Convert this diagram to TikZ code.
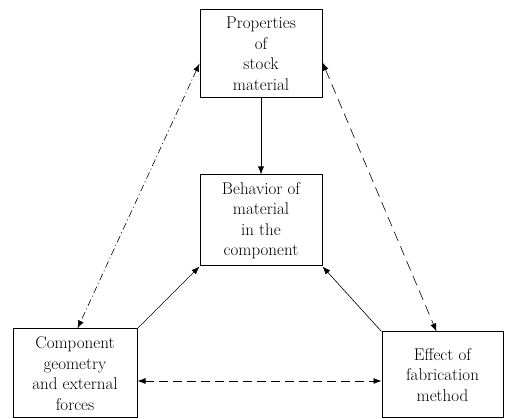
\documentclass[tikz,border=0pt]{standalone}
\usetikzlibrary{arrows.meta}
\begin{document}
\begin{tikzpicture}[x=1pt,y=-1pt,
  box/.style={draw=black,line width=1pt,align=center,inner sep=0pt,
    font=\fontsize{17}{20.5}\selectfont},
  tip/.style={-{Latex[length=8pt,width=6pt]}},
  dtip/.style={{Latex[length=8pt,width=6pt]}-{Latex[length=8pt,width=6pt]}},
  conn/.style={line width=0.6pt}]
\useasboundingbox (0,0) rectangle (507,419);
\node[box,minimum width=122pt,minimum height=88pt] (top) at (261,54)
  {Properties\\of\\stock\\material};
\node[box,minimum width=122pt,minimum height=91pt] (mid) at (261,220.5)
  {Behavior of\\material\\in the\\component};
\node[box,minimum width=124pt,minimum height=89pt] (comp) at (75,373.5)
  {Component\\geometry\\and external\\forces};
\node[box,minimum width=121pt,minimum height=86pt] (eff) at (442.5,375)
  {Effect of\\fabrication\\method};
\draw[conn,tip] (top.south) -- (mid.north);
\draw[conn,tip] (comp.north east) -- (mid.south west);
\draw[conn,tip] (eff.north west) -- (mid.south east);
\coordinate (la) at ([yshift=-54pt]top.north west);
\coordinate (lb) at ([xshift=65pt]comp.north west);
\draw[conn,dtip,dash pattern=on 7pt off 3pt on 1pt off 3pt] (la) -- (lb);
\coordinate (ra) at ([yshift=-53pt]top.north east);
\coordinate (rb) at ([xshift=55pt]eff.north west);
\draw[conn,dtip,dash pattern=on 10pt off 6pt] (ra) -- (rb);
\coordinate (ha) at ([yshift=-7.5pt]comp.east);
\draw[line width=0.8pt,dtip,dash pattern=on 9pt off 5pt] (ha) -- (ha -| eff.west);
\end{tikzpicture}
\end{document}
